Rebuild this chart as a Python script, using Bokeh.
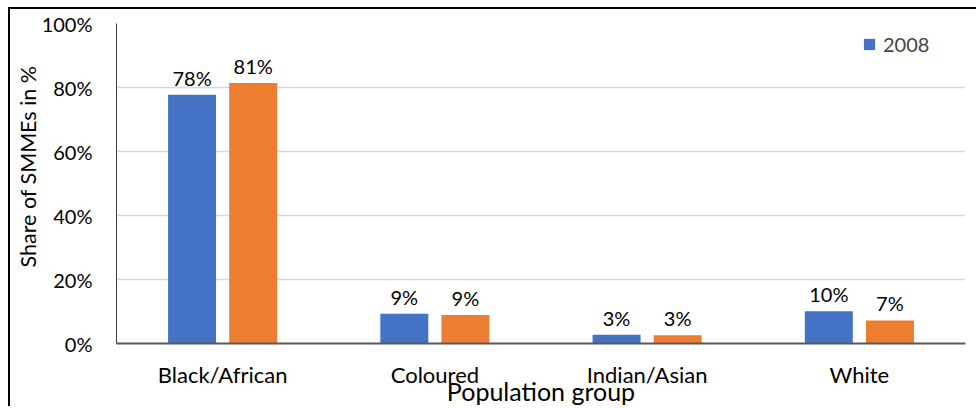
from bokeh.plotting import figure
from bokeh.models import (ColumnDataSource, FactorRange, Range1d, FixedTicker,
                          PrintfTickFormatter, Legend, LegendItem, Title)
from bokeh.transform import dodge
from bokeh.core.properties import value
from bokeh.embed import file_html
from bokeh.resources import INLINE

# Share of SMMEs by population group (percent)
groups = ["Black/African", "Coloured", "Indian/Asian", "White"]
share_2008 = [77.7, 9.3, 2.7, 10.1]
share_second = [81.4, 8.9, 2.6, 7.2]
y_ticks = [0, 20, 40, 60, 80, 100]
legend_label = "2008"
x_title = "Population group"
y_title = "Share of SMMEs in %"

BLUE = "#4472C4"
ORANGE = "#ED7D31"
FONT = "Lato"

src = ColumnDataSource(dict(
    group=groups,
    a=share_2008,
    b=share_second,
    a_lbl=[f"{round(v)}%" for v in share_2008],
    b_lbl=[f"{round(v)}%" for v in share_second],
))

p = figure(
    width=968, height=399,
    x_range=FactorRange(*groups, range_padding=0),
    y_range=Range1d(0, 100),
    output_backend="svg", toolbar_location=None,
    min_border_left=106, min_border_right=13,
    min_border_top=14, min_border_bottom=65,
)
p.styles = {"margin-left": "8px", "margin-top": "7px",
            "border-top": "2px solid black", "border-left": "2px solid black"}
p.outline_line_color = None

off, bw = 0.144, 0.226
ra = p.vbar(x=dodge("group", -off, range=p.x_range), top="a", width=bw,
            source=src, fill_color=BLUE, line_color=None)
p.vbar(x=dodge("group", off, range=p.x_range), top="b", width=bw,
       source=src, fill_color=ORANGE, line_color=None)

for col, lbl, dx in (("a", "a_lbl", -off), ("b", "b_lbl", off)):
    p.text(x=dodge("group", dx, range=p.x_range), y=col, text=lbl, source=src,
           text_align="center", text_baseline="alphabetic", y_offset=-17,
           text_font=value(FONT), text_font_size="20px", text_color="black")

# axes
p.xgrid.grid_line_color = None
p.ygrid.grid_line_color = "#d9d9d9"
p.ygrid.grid_line_width = 1.5
p.yaxis.ticker = FixedTicker(ticks=y_ticks)
p.yaxis.formatter = PrintfTickFormatter(format="%d%%")
for ax in (p.xaxis[0], p.yaxis[0]):
    ax.major_tick_out = 0
    ax.major_tick_in = 0
    ax.minor_tick_out = 0
    ax.minor_tick_in = 0
    ax.major_tick_line_color = None
    ax.minor_tick_line_color = None
    ax.major_label_text_font = FONT
    ax.major_label_text_color = "black"
p.yaxis.major_label_text_font_size = "20px"
p.xaxis.major_label_text_font_size = "22px"
p.yaxis.axis_line_color = "#404040"
p.yaxis.major_label_standoff = 24
p.xaxis.axis_line_color = "#595959"
p.xaxis.axis_line_width = 2
p.xaxis.major_label_standoff = 17

p.xaxis.axis_label = x_title
p.xaxis.axis_label_text_font = FONT
p.xaxis.axis_label_text_font_size = "25px"
p.xaxis.axis_label_text_font_style = "normal"
p.xaxis.axis_label_text_color = "black"
p.xaxis.axis_label_standoff = -15

# vertical title, anchored from the bottom of the plot area
p.add_layout(Title(text=y_title, align="left", offset=76, standoff=-4,
                   text_font=FONT, text_font_size="21.5px",
                   text_font_style="normal", text_color="black"), "left")

legend = Legend(items=[LegendItem(label=legend_label, renderers=[ra])],
                location=(746, 287), padding=0, margin=0,
                glyph_width=14, glyph_height=14, label_standoff=7,
                label_text_font=FONT, label_text_font_size="20px",
                border_line_color=None, background_fill_alpha=0)
p.add_layout(legend)

open("out.html", "w").write(file_html(p, INLINE))
